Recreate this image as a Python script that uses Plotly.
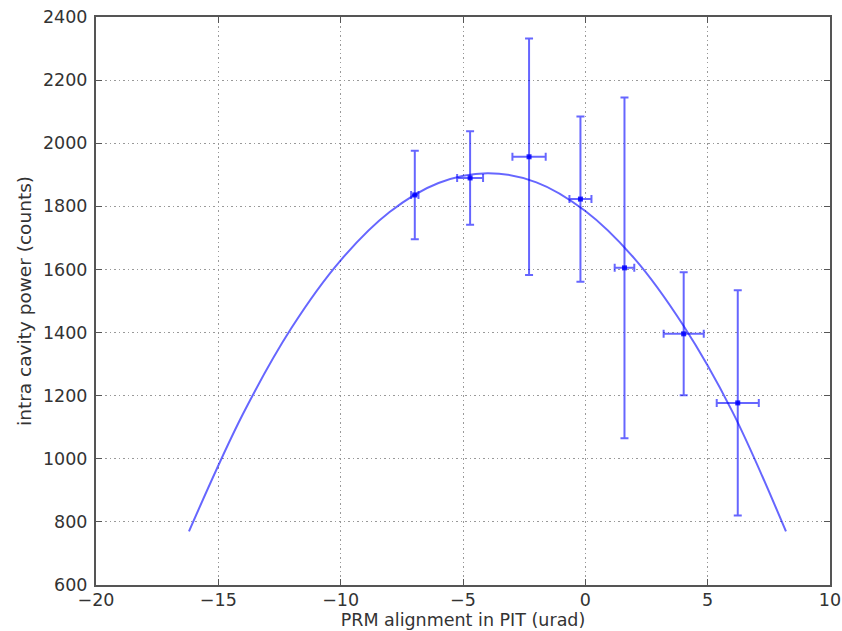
import plotly.graph_objects as go

# measured points
x_vals = [-6.97, -4.71, -2.3, -0.2, 1.6, 4.02, 6.23]
y_vals = [1836, 1890, 1957, 1823, 1605, 1396, 1177]
x_err = [0.15, 0.53, 0.68, 0.45, 0.4, 0.82, 0.86]
y_err = [140, 148, 375, 262, 540, 195, 357]

# fitted curve
fit_x = [-16.2, -14, -12, -10, -8, -6, -4, -2, 0, 2, 4, 6, 8.2]
fit_y = [770, 1141, 1416, 1629, 1782, 1874, 1905, 1876, 1785, 1635, 1423, 1151, 770]

x_ticks = [-20, -15, -10, -5, 0, 5, 10]
y_ticks = [600, 800, 1000, 1200, 1400, 1600, 1800, 2000, 2200, 2400]

blue_t = "rgba(0,0,255,0.6)"
FONT = "DejaVu Sans"

fig = go.Figure()
fig.add_trace(go.Scatter(
    x=fit_x, y=fit_y, mode="lines", line=dict(color=blue_t, width=2, shape="spline"),
    hoverinfo="skip", showlegend=False))
fig.add_trace(go.Scatter(
    x=x_vals, y=y_vals, mode="markers",
    marker=dict(color="rgba(0,0,255,0.85)", size=5, symbol="square"),
    error_x=dict(type="data", array=x_err, color=blue_t, thickness=2, width=4),
    error_y=dict(type="data", array=y_err, color=blue_t, thickness=2, width=4),
    showlegend=False))

axis_common = dict(
    showline=True, linecolor="#555", linewidth=2, mirror="allticks",
    ticks="inside", ticklen=6, tickcolor="#555", tickwidth=1,
    showgrid=True, gridcolor="#999", griddash="1.5px,3px", gridwidth=1,
    zeroline=False, automargin=False,
    tickfont=dict(family=FONT, size=17.5, color="#333"),
)

fig.update_xaxes(range=[-20, 10], tickvals=x_ticks, ticklabelstandoff=-2,
                 title=dict(text="PRM alignment in PIT (urad)", font=dict(family=FONT, size=17.5, color="#333"), standoff=0),
                 **axis_common)
fig.update_yaxes(range=[600, 2400], tickvals=y_ticks, ticklabelstandoff=3,
                 title=dict(text="intra cavity power (counts)", font=dict(family=FONT, size=18.5, color="#333"), standoff=6),
                 **axis_common)

fig.update_layout(
    width=842, height=631,
    margin=dict(l=96, r=12, t=17, b=46),
    paper_bgcolor="white", plot_bgcolor="white",
)

fig.write_html("out.html")
